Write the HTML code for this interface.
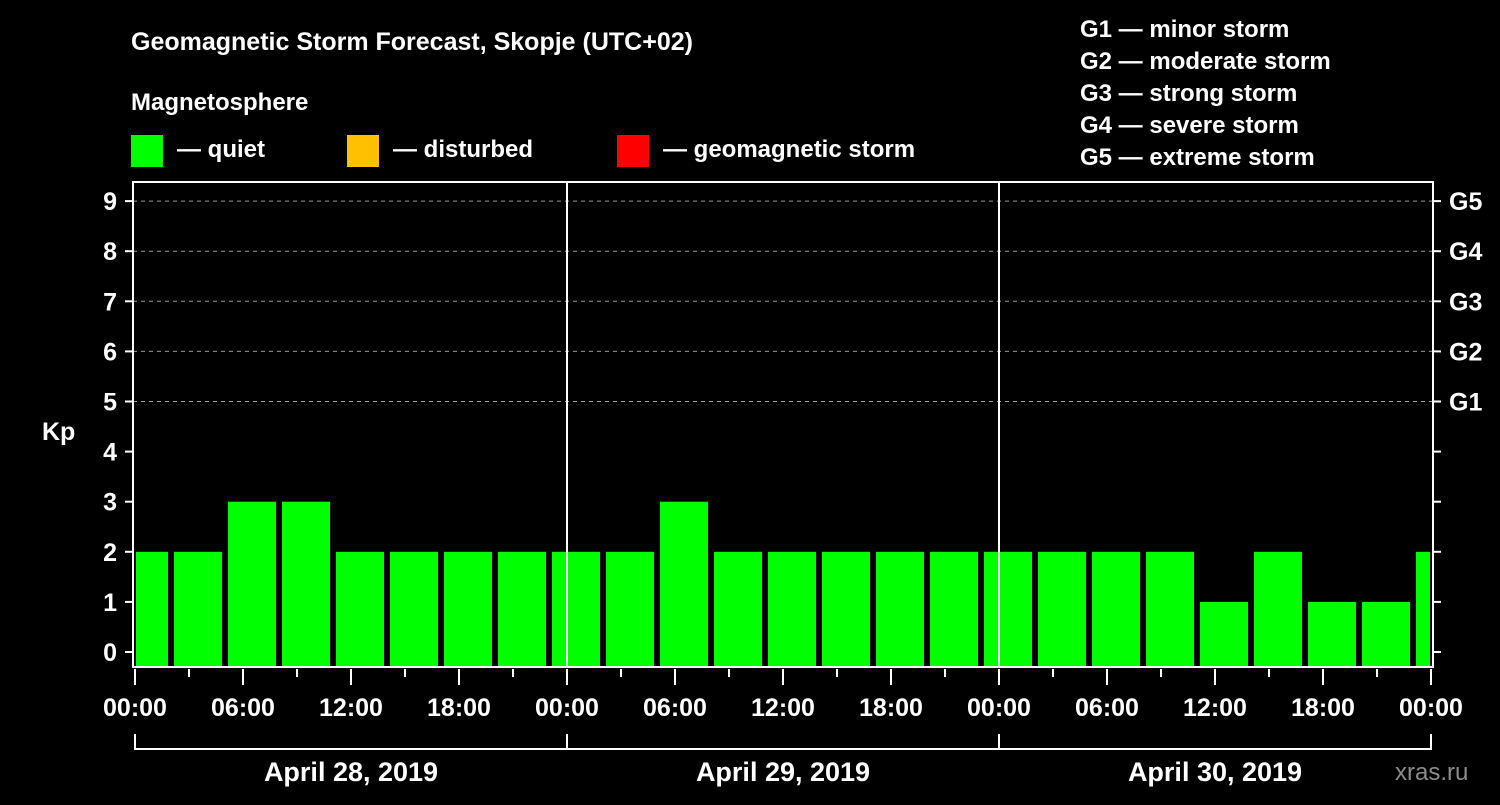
<!DOCTYPE html>
<html><head><meta charset="utf-8"><style>
body{margin:0;background:#000;width:1500px;height:800px;overflow:hidden}
svg text{font-family:"Liberation Sans",sans-serif;font-weight:bold;fill:#fff}
</style></head><body>
<svg id="c" width="1500" height="800">
<rect width="1500" height="800" fill="#000"/>
<text x="131" y="50" font-size="25">Geomagnetic Storm Forecast, Skopje (UTC+02)</text>
<text x="131" y="110" font-size="24">Magnetosphere</text>
<g><rect x="131" y="135" width="32" height="32" fill="#00ff00"/><text x="177" y="157" font-size="24">— quiet</text></g>
<g><rect x="347" y="135" width="32" height="32" fill="#ffc000"/><text x="393" y="157" font-size="24">— disturbed</text></g>
<g><rect x="617" y="135" width="32" height="32" fill="#ff0000"/><text x="663" y="157" font-size="24">— geomagnetic storm</text></g>
<g font-size="24">
<text x="1080" y="37">G1 — minor storm</text>
<text x="1080" y="69">G2 — moderate storm</text>
<text x="1080" y="101">G3 — strong storm</text>
<text x="1080" y="133">G4 — severe storm</text>
<text x="1080" y="165">G5 — extreme storm</text>
</g>
<text x="42" y="440" font-size="25">Kp</text>
<g id="grid"></g><g id="bars"></g><g id="axes"></g>
<text x="1395" y="780" font-size="24" fill="#888" style="fill:#8c8c8c;font-weight:normal">xras.ru</text>
</svg>
<script>
const kpValues=[2,2,3,3,2,2,2,2,2,2,3,2,2,2,2,2,2,2,2,2,1,2,1,1,2];
const binStartHours=[-1,2,5,8,11,14,17,20,23,26,29,32,35,38,41,44,47,50,53,56,59,62,65,68,71];
const yTicks=[0,1,2,3,4,5,6,7,8,9];
const gLabels=[[5,"G1"],[6,"G2"],[7,"G3"],[8,"G4"],[9,"G5"]];
const xLabels=["00:00","06:00","12:00","18:00","00:00","06:00","12:00","18:00","00:00","06:00","12:00","18:00","00:00"];
const dates=["April 28, 2019","April 29, 2019","April 30, 2019"];
const NS="http://www.w3.org/2000/svg";
const X=h=>135+18*h, Y=v=>652-50.1*v;
const L=136,R=1430,B=666;
function mk(t,a,p){const e=document.createElementNS(NS,t);for(const k in a)e.setAttribute(k,a[k]);p.appendChild(e);return e;}
const grid=document.getElementById('grid'),bars=document.getElementById('bars'),axes=document.getElementById('axes');
gLabels.forEach(([v])=>{const l=mk('line',{x1:133,x2:1433,y1:Y(v),y2:Y(v),stroke:'#999','stroke-dasharray':'4,4','stroke-width':1},grid);

});
kpValues.forEach((v,i)=>{let x1=Math.max(L,X(binStartHours[i])+3),x2=Math.min(R,X(binStartHours[i]+3)-3);
const c=v>=5?'#ff0000':v>=4?'#ffc000':'#00ff00';
const r=mk('rect',{x:x1,y:Y(v),width:x2-x1,height:B-Y(v),fill:c},bars);

});
const f=mk('rect',{x:133,y:182,width:1300,height:485,fill:'none',stroke:'#fff','stroke-width':2},axes);


[1,2].forEach(d=>{const l=mk('line',{x1:X(24*d),x2:X(24*d),y1:182,y2:667,stroke:'#fff','stroke-width':2},axes);

});
yTicks.forEach(v=>{mk('line',{x1:125,x2:133,y1:Y(v),y2:Y(v),stroke:'#fff','stroke-width':2},axes);
mk('line',{x1:1433,x2:1441,y1:Y(v),y2:Y(v),stroke:'#fff','stroke-width':2},axes);
const t=mk('text',{x:117,y:Y(v)+9,'font-size':25,'text-anchor':'end'},axes);t.textContent=v;

});
gLabels.forEach(([v,s])=>{const t=mk('text',{x:1449,y:Y(v)+9,'font-size':25},axes);t.textContent=s;

});
for(let h=0;h<=72;h+=3){const maj=h%6==0;mk('line',{x1:X(h),x2:X(h),y1:669,y2:maj?685:677,stroke:'#fff','stroke-width':2},axes);}
xLabels.forEach((s,i)=>{const t=mk('text',{x:X(6*i),y:716,'font-size':25,'text-anchor':'middle'},axes);t.textContent=s;

});
mk('path',{d:`M${X(0)},734V749H${X(72)}V734M${X(24)},734V749M${X(48)},734V749`,fill:'none',stroke:'#fff','stroke-width':2},axes);
dates.forEach((s,i)=>{const t=mk('text',{x:X(24*i+12),y:781,'font-size':27,'text-anchor':'middle'},axes);t.textContent=s;

});
</script>
</body></html>
